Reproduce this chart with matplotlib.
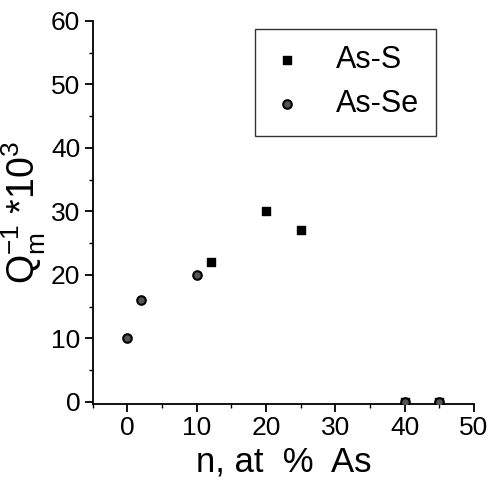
import matplotlib
matplotlib.use('Agg')
import matplotlib.pyplot as plt
from matplotlib.ticker import MultipleLocator

plt.rcParams['font.family'] = ['Liberation Sans', 'DejaVu Sans']
plt.rcParams['mathtext.fontset'] = 'custom'
plt.rcParams['mathtext.rm'] = 'Liberation Sans'
plt.rcParams['mathtext.it'] = 'Liberation Sans'

# data
as_s_x = [12, 20, 25, 40, 45]
as_s_y = [22, 30, 27, 0, 0]
as_se_x = [0, 2, 10, 40, 45]
as_se_y = [10, 16, 20, 0, 0]

fig = plt.figure(figsize=(4.91, 4.86), dpi=100)
ax = fig.add_axes([0.189, 0.169, 0.776, 0.788])

ax.scatter(as_s_x, as_s_y, marker='s', s=38, color='black', label='As-S', zorder=3)
ax.scatter(as_se_x, as_se_y, marker='o', s=38, facecolor='#555555',
           edgecolor='black', linewidths=1.5, label='As-Se', zorder=3)

ax.set_xlim(-5, 50)
ax.set_ylim(-0.3, 60)
ax.xaxis.set_major_locator(MultipleLocator(10))
ax.xaxis.set_minor_locator(MultipleLocator(5))
ax.yaxis.set_major_locator(MultipleLocator(10))
ax.yaxis.set_minor_locator(MultipleLocator(5))
ax.spines['top'].set_visible(False)
ax.spines['right'].set_visible(False)
for s in ['left', 'bottom']:
    ax.spines[s].set_linewidth(1.3)
ax.tick_params(which='major', length=6, width=1.3, labelsize=19, pad=3)
ax.tick_params(which='minor', length=3, width=1.0)

ax.set_xlabel('n, at  %  As', fontsize=25, labelpad=4)
ax.set_ylabel(r'Q$^{-1}_{\rm m}$ *10$^{3}$', fontsize=27, labelpad=2)

leg = ax.legend(loc='upper left', fontsize=22, frameon=True, fancybox=False,
                edgecolor='black', borderpad=0.55, labelspacing=0.45,
                handlelength=1.0, handletextpad=1.1, borderaxespad=0,
                bbox_to_anchor=(0.425, 0.98))
leg.get_frame().set_linewidth(1.0)

plt.savefig('out.png', dpi=100)
